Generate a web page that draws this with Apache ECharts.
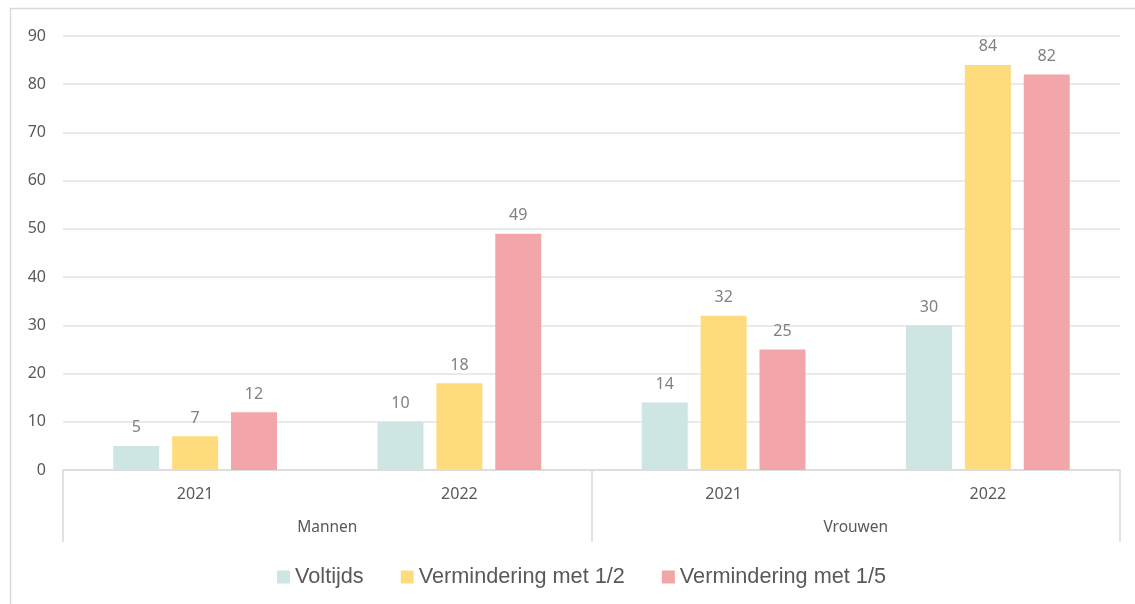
<!DOCTYPE html>
<html><head><meta charset="utf-8">
<script src="https://cdn.jsdelivr.net/npm/echarts@6/dist/echarts.min.js"></script>
<style>html,body{margin:0;padding:0;background:#fff}#c{width:1135px;height:604px}</style>
</head><body><div id="c"></div>
<script>
const years = ['2021', '2022', '2021', '2022'];
const groups = ['Mannen', 'Vrouwen'];
const seriesNames = ['Voltijds', 'Vermindering met 1/2', 'Vermindering met 1/5'];
const voltijds = [5, 10, 14, 30];
const half = [7, 18, 32, 84];
const fifth = [12, 49, 25, 82];
const yTicks = { min: 0, max: 90, interval: 10 };
const colors = ['#CDE6E3', '#FEDC7E', '#F3A6A9'];
const font = 'Noto Sans';

const chart = echarts.init(document.getElementById('c'), null, { renderer: 'canvas' });
const mk = (name, data, color) => ({
  name, type: 'bar', data, xAxisIndex: 0,
  barWidth: 46, barGap: '28%',
  itemStyle: { color },
  label: { show: true, position: 'top', distance: 10, color: '#808080', fontFamily: font, fontSize: 16 }
});
chart.setOption({
  animation: false,
  textStyle: { fontFamily: font },
  graphic: [{ type: 'rect', shape: { x: 10.5, y: 8.5, width: 1300, height: 800 }, style: { fill: 'none', stroke: '#d9d9d9', lineWidth: 1.5 }, silent: true }],
  grid: { left: 63, right: 15, top: 36, bottom: 134 },
  legend: {
    bottom: 11, left: 272, itemWidth: 13, itemHeight: 13, itemGap: 37,
    icon: 'rect',
    textStyle: { color: '#595959', fontSize: 21.7, fontFamily: 'Liberation Sans' },
    data: seriesNames
  },
  xAxis: [
    { type: 'category', data: years, position: 'bottom',
      axisLine: { lineStyle: { color: '#d9d9d9', width: 1.5 } }, axisTick: { show: false },
      axisLabel: { color: '#595959', fontSize: 16, margin: 16, fontFamily: font } },
    { type: 'category', data: groups, position: 'bottom',
      axisLine: { show: false },
      axisTick: { show: true, length: 72, lineStyle: { color: '#d9d9d9', width: 1.5 } },
      axisLabel: { color: '#595959', fontSize: 15.5, margin: 50, fontFamily: font } }
  ],
  yAxis: {
    type: 'value', min: yTicks.min, max: yTicks.max, interval: yTicks.interval,
    axisLine: { show: false }, axisTick: { show: false },
    axisLabel: { color: '#595959', fontSize: 16, margin: 17, fontFamily: font },
    splitLine: { lineStyle: { color: '#e3e3e3', width: 1.5 } }
  },
  series: [mk(seriesNames[0], voltijds, colors[0]), mk(seriesNames[1], half, colors[1]), mk(seriesNames[2], fifth, colors[2])]
});
</script></body></html>
